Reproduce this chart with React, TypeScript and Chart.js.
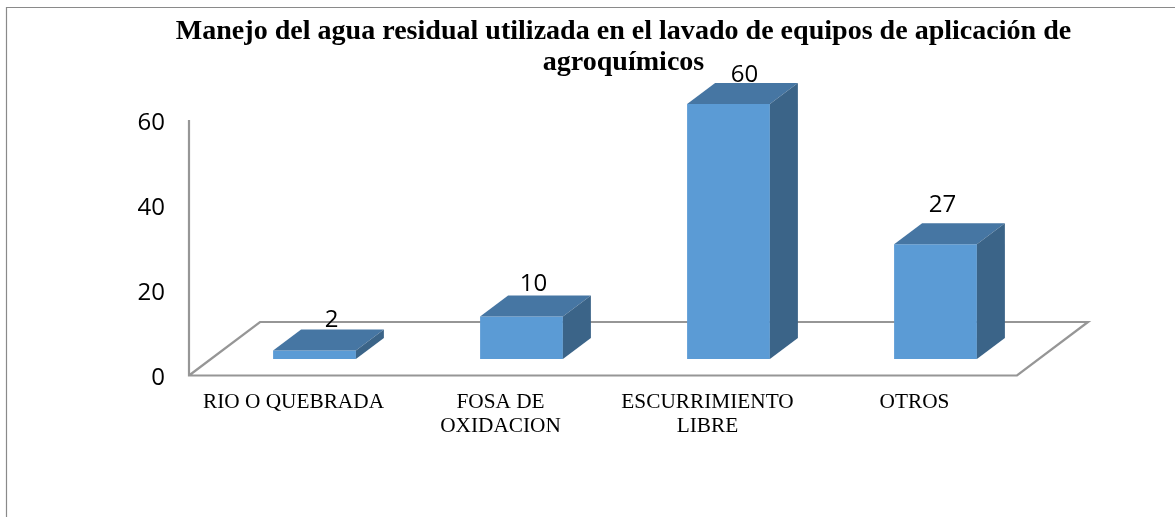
import React, { useEffect, useRef } from "react";
import { Chart, registerables } from "chart.js";

Chart.register(...registerables);

const categories: (string | string[])[] = [
  "RIO O QUEBRADA",
  ["FOSA DE", "OXIDACION"],
  ["ESCURRIMIENTO", "LIBRE"],
  "OTROS",
];
const values = [2, 10, 60, 27];
const yTicks = [0, 20, 40, 60];
const titleLines = [
  "Manejo del agua residual utilizada en el lavado de equipos de aplicación de",
  "agroquímicos",
];

const DEPTH_X = 28;
const DEPTH_Y = 21;
const AXIS_SHIFT_X = 22;
const AXIS_SHIFT_Y = 16;
// hand placed label nudges as in the original, relative to the bar's top centre
const LABEL_NUDGE: [number, number][] = [
  [17, -30],
  [12, -32],
  [16, -29],
  [7, -39],
];

const poly = (ctx: CanvasRenderingContext2D, pts: number[][], fill: string) => {
  ctx.beginPath();
  pts.forEach(([x, y], i) => (i ? ctx.lineTo(x, y) : ctx.moveTo(x, y)));
  ctx.closePath();
  ctx.fillStyle = fill;
  ctx.fill();
};

const frame3d = {
  id: "frame3d",
  beforeDraw(chart: any) {
    const { ctx, width, height } = chart;
    ctx.save();
    ctx.fillStyle = "#ffffff";
    ctx.fillRect(0, 0, width, height);
    ctx.strokeStyle = "#8a8a8a";
    ctx.lineWidth = 1.2;
    ctx.beginPath();
    ctx.moveTo(6.5, height);
    ctx.lineTo(6.5, 7.5);
    ctx.lineTo(width, 7.5);
    ctx.stroke();
    ctx.restore();
  },
  beforeDatasetsDraw(chart: any) {
    const { ctx, chartArea: a } = chart;
    const left = a.left - AXIS_SHIFT_X;
    const right = a.right - AXIS_SHIFT_X;
    const front = a.bottom + AXIS_SHIFT_Y + 0.5;
    const back = front - 53.5;
    const dx = 71;
    ctx.save();
    ctx.strokeStyle = "#969696";
    ctx.lineWidth = 2.2;
    ctx.lineJoin = "miter";
    ctx.beginPath();
    ctx.moveTo(left, a.top + AXIS_SHIFT_Y);
    ctx.lineTo(left, front);
    ctx.lineTo(right, front);
    ctx.lineTo(right + dx, back);
    ctx.lineTo(left + dx, back);
    ctx.lineTo(left, front);
    ctx.stroke();
    ctx.restore();
  },
  afterDatasetsDraw(chart: any) {
    const { ctx, chartArea: a } = chart;
    const bars = chart.getDatasetMeta(0).data;
    ctx.save();
    bars.forEach((bar: any, i: number) => {
      const half = bar.width / 2;
      const l = bar.x - half;
      const r = bar.x + half;
      const t = bar.y;
      const b = bar.base;
      poly(ctx, [[l, t], [r, t], [r + DEPTH_X, t - DEPTH_Y], [l + DEPTH_X, t - DEPTH_Y]], "#4676a3");
      poly(ctx, [[r, t], [r + DEPTH_X, t - DEPTH_Y], [r + DEPTH_X, b - DEPTH_Y], [r, b]], "#3b6488");
      ctx.fillStyle = "#000000";
      ctx.font = '24px "Open Sans"';
      ctx.textAlign = "center";
      ctx.textBaseline = "middle";
      const [nx, ny] = LABEL_NUDGE[i];
      ctx.fillText(String(values[i]), bar.x + nx, t + ny);
    });
    ctx.fillStyle = "#000000";
    ctx.font = 'bold 28.05px "Liberation Serif"';
    ctx.textAlign = "center";
    ctx.textBaseline = "middle";
    titleLines.forEach((line, i) => {
      ctx.fillText(line, (a.left + a.right) / 2 - 1.5, 31.5 + i * 31);
    });
    ctx.restore();
  },
};

export default function App() {
  const ref = useRef<HTMLCanvasElement>(null);
  useEffect(() => {
    const chart = new Chart(ref.current!, {
      type: "bar",
      data: {
        labels: categories as any,
        datasets: [
          {
            data: values,
            backgroundColor: "#5b9bd5",
            barPercentage: 0.4,
            categoryPercentage: 1,
          },
        ],
      },
      plugins: [frame3d],
      options: {
        animation: false,
        responsive: false,
        layout: { padding: { left: 0, right: 136, top: 104, bottom: 0 } },
        plugins: {
          legend: { display: false },
          tooltip: { enabled: false },
          title: { display: false },
        },
        scales: {
          x: {
            grid: { display: false, drawTicks: false },
            border: { display: false },
            afterFit(s: any) {
              s.height = 158;
            },
            ticks: {
              color: "#000000",
              autoSkip: false,
              maxRotation: 0,
              padding: 31,
              labelOffset: -21,
              font: { family: '"Liberation Serif"', size: 21.3, lineHeight: 1.13 },
            },
          },
          y: {
            min: 0,
            max: 60,
            grid: { display: false, drawTicks: false },
            border: { display: false },
            afterFit(s: any) {
              s.width = 211;
            },
            afterBuildTicks(s: any) {
              s.ticks = yTicks.map((value) => ({ value }));
            },
            ticks: {
              color: "#000000",
              padding: 46,
              labelOffset: 19,
              font: { family: '"Open Sans"', size: 24 },
            },
          },
        },
      },
    } as any);
    return () => chart.destroy();
  }, []);
  return (
    <div style={{ position: "fixed", left: 0, top: 0, width: 1175, height: 517 }}>
      <canvas ref={ref} width={1175} height={517} style={{ display: "block" }} />
    </div>
  );
}
